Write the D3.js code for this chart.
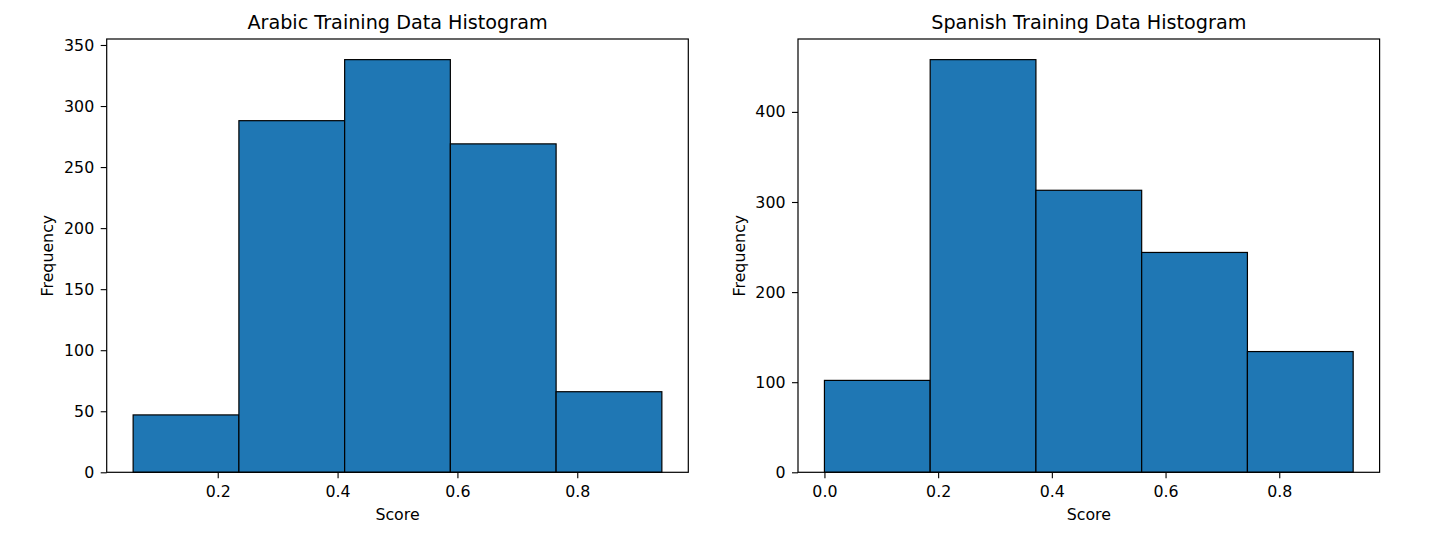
<!DOCTYPE html>
<html>
<head>
<meta charset="utf-8">
<script src="https://cdn.jsdelivr.net/npm/d3@7"></script>
<style>
  body { margin: 0; background: #fff; }
  svg { display: block; font-family: "DejaVu Sans", sans-serif; }
</style>
</head>
<body>
<div class="charts"></div>
<script>
// histogram bins
const arabicEdges = [0.0588, 0.2353, 0.4118, 0.5882, 0.7647, 0.9412];
const arabicCounts = [47, 288, 338, 269, 66];
const arabicXTicks = [0.2, 0.4, 0.6, 0.8];
const arabicYTicks = [0, 50, 100, 150, 200, 250, 300, 350];

const spanishEdges = [0, 0.186, 0.372, 0.558, 0.744, 0.93];
const spanishCounts = [102, 458, 313, 244, 134];
const spanishXTicks = [0.0, 0.2, 0.4, 0.6, 0.8];
const spanishYTicks = [0, 100, 200, 300, 400];

const width = 1443, height = 541;
const svg = d3.select(".charts").append("svg")
  .attr("width", width)
  .attr("height", height);

function Histogram(
  edges,
  counts,
  {
    title, // chart title
    xTicks, // tick values on x
    yTicks, // tick values on y
    left, // left edge of the plot area, in pixels
    top = 39,
    plotWidth = 581.6,
    plotHeight = 433.3,
    fill = "#1f77b4",
    fontSize = 15.8,
    titleSize = 19.2,
  } = {}
) {
  const bins = d3.range(counts.length).map((i) => ({ x0: edges[i], x1: edges[i + 1], n: counts[i] }));

  // matplotlib style 5% margins
  const [lo, hi] = d3.extent(edges);
  const pad = (hi - lo) * 0.05;
  const x = d3.scaleLinear([lo - pad, hi + pad], [left, left + plotWidth]);
  const y = d3.scaleLinear([0, d3.max(counts) * 1.05], [top + plotHeight, top]);

  const g = svg.append("g");

  g.append("g")
    .attr("fill", fill)
    .attr("stroke", "#000")
    .attr("stroke-width", 1.2)
    .selectAll("rect")
    .data(bins)
    .join("rect")
    .attr("x", (d) => x(d.x0))
    .attr("y", (d) => y(d.n))
    .attr("width", (d) => x(d.x1) - x(d.x0))
    .attr("height", (d) => y(0) - y(d.n));

  // frame
  g.append("rect")
    .attr("x", left)
    .attr("y", top)
    .attr("width", plotWidth)
    .attr("height", plotHeight)
    .attr("fill", "none")
    .attr("stroke", "#000")
    .attr("stroke-width", 1.2);

  const xAxis = g.append("g")
    .attr("transform", `translate(0,${top + plotHeight})`)
    .call(d3.axisBottom(x).tickValues(xTicks).tickFormat(d3.format(".1f")).tickSize(6).tickPadding(7.3));
  const yAxis = g.append("g")
    .attr("transform", `translate(${left},0)`)
    .call(d3.axisLeft(y).tickValues(yTicks).tickSize(6).tickPadding(6.5));

  for (const ax of [xAxis, yAxis]) {
    ax.select(".domain").remove();
    ax.selectAll("line").attr("stroke", "#000").attr("stroke-width", 1.1);
    ax.selectAll("text")
      .attr("fill", "#000")
      .attr("font-size", fontSize)
      .attr("font-family", "DejaVu Sans, sans-serif");
  }

  g.append("text")
    .attr("x", left + plotWidth / 2)
    .attr("y", 520)
    .attr("text-anchor", "middle")
    .attr("font-size", fontSize)
    .text("Score");

  g.append("text")
    .attr("transform", `translate(${left - 53.3},${top + plotHeight / 2}) rotate(-90)`)
    .attr("text-anchor", "middle")
    .attr("font-size", fontSize)
    .text("Frequency");

  g.append("text")
    .attr("x", left + plotWidth / 2)
    .attr("y", 29)
    .attr("text-anchor", "middle")
    .attr("font-size", titleSize)
    .text(title);
}

Histogram(arabicEdges, arabicCounts, {
  title: "Arabic Training Data Histogram",
  xTicks: arabicXTicks,
  yTicks: arabicYTicks,
  left: 106.7,
});

Histogram(spanishEdges, spanishCounts, {
  title: "Spanish Training Data Histogram",
  xTicks: spanishXTicks,
  yTicks: spanishYTicks,
  left: 798,
});
</script>
</body>
</html>
